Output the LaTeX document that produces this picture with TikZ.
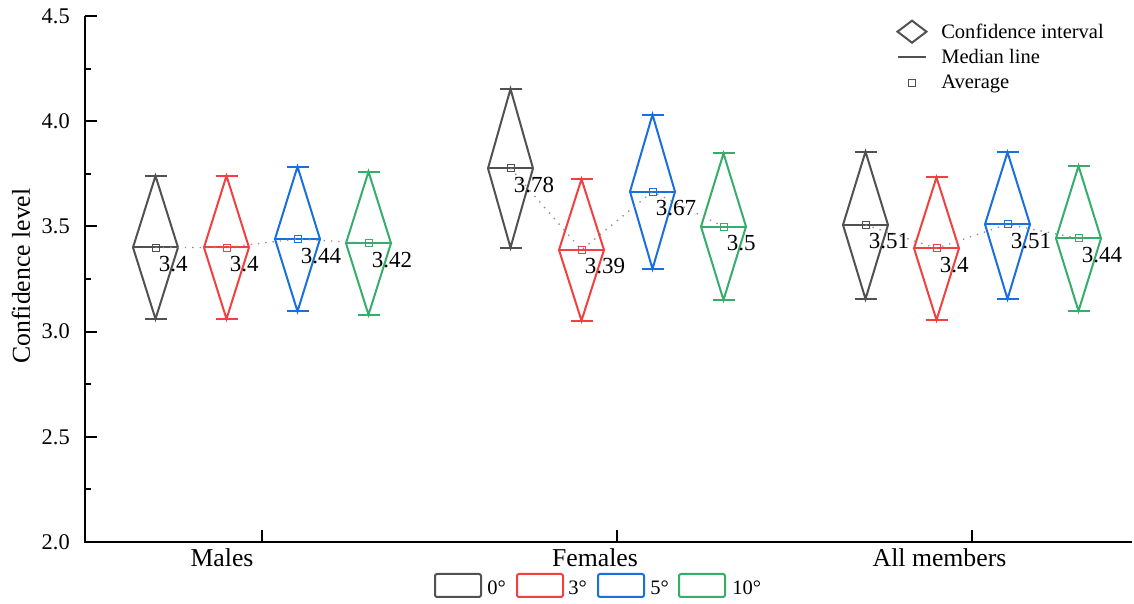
\documentclass[tikz,border=0pt]{standalone}
\usepackage{fontspec}
\setmainfont{Liberation Serif}
\usepackage{xcolor}
\definecolor{ci-gray}{HTML}{515151}
\definecolor{ci-red}{HTML}{F14040}
\definecolor{ci-blue}{HTML}{1A6FDF}
\definecolor{ci-green}{HTML}{37AD6B}
\definecolor{ci-dots}{HTML}{8C8C8C}
\usepackage{tikz}

% one diamond: colour, centre x, lower, median, upper, name, value
\newcommand{\cidiamond}[7]{%
    \draw[diamondline, #1] (#2-22.5, #4) -- (#2, #5) -- (#2+22.5, #4) -- (#2, #3) -- cycle;
    \draw[diamondline, #1] (#2-11, #5) -- (#2+11, #5);
    \draw[diamondline, #1] (#2-11, #3) -- (#2+11, #3);
    \draw[diamondline, #1] (#2-22.5, #4) -- (#2+22.5, #4);
    \node[avgmark, draw=#1] (#6) at (#2, #4) {};
    \node[valuelabel, anchor=base west, yshift=-18pt] (#6-value) at (#2+3, #4) {#7};
}

\begin{document}
\begin{tikzpicture}[x=0.75pt, y=157.8pt,
    axisline/.style={line width=1.5pt, black},
    diamondline/.style={line width=1.5pt},
    avgmark/.style={draw, rectangle, minimum size=5.25pt, inner sep=0pt, line width=0.6pt},
    avgdots/.style={ci-dots, line width=1pt, dash pattern=on 1pt off 4.5pt},
    ticklabel/.style={font=\fontsize{16.8}{18}\selectfont, inner sep=0pt},
    grouplabel/.style={font=\fontsize{19.3}{21}\selectfont, inner sep=0pt},
    valuelabel/.style={font=\fontsize{17.25}{20}\selectfont, inner sep=0pt},
    legendlabel/.style={font=\fontsize{15.4}{17}\selectfont, inner sep=0pt, anchor=base west},
    legendbox/.style={line width=1.5pt, rounded corners=1.5pt}]

    % Canvas
    \useasboundingbox (0, 1.7053) rectangle (1134, 4.5760);

    % Axes
    \draw[axisline] (85, 4.5) -- (85, 2.0) -- (1132, 2.0);
    \foreach \v [count=\i] in {2.0,2.5,3.0,3.5,4.0,4.5} {
        \draw[axisline] (85, \v) -- (97, \v);
        \node[ticklabel, anchor=east] (ytick-\i) at (70, \v) {\v};
    }
    \foreach \v in {2.25,2.75,3.25,3.75,4.25}
        \draw[axisline] (85, \v) -- (91, \v);
    \foreach \gx in {262,617,972}
        \draw[axisline] (\gx, 2.0) -- (\gx, 2.057);
    \node[grouplabel, rotate=90] (ylabel) at (21, 3.264) {Confidence level};
    \node[grouplabel, anchor=base, yshift=-18.75pt] (males) at (222, 2.0) {Males};
    \node[grouplabel, anchor=base, yshift=-18.75pt] (females) at (595, 2.0) {Females};
    \node[grouplabel, anchor=base, yshift=-18.75pt] (allmembers) at (939.5, 2.0) {All members};

    % Males
    \cidiamond{ci-gray}{155.5}{3.06}{3.40}{3.74}{males-0}{3.4}
    \cidiamond{ci-red}{226.5}{3.06}{3.40}{3.74}{males-3}{3.4}
    \cidiamond{ci-blue}{297.5}{3.096}{3.44}{3.784}{males-5}{3.44}
    \cidiamond{ci-green}{368.5}{3.08}{3.42}{3.76}{males-10}{3.42}

    % Females
    \cidiamond{ci-gray}{510.5}{3.399}{3.776}{4.153}{females-0}{3.78}
    \cidiamond{ci-red}{581.5}{3.052}{3.388}{3.725}{females-3}{3.39}
    \cidiamond{ci-blue}{652.5}{3.298}{3.665}{4.031}{females-5}{3.67}
    \cidiamond{ci-green}{723.5}{3.150}{3.499}{3.847}{females-10}{3.5}

    % All members
    \cidiamond{ci-gray}{865.5}{3.155}{3.507}{3.855}{all-0}{3.51}
    \cidiamond{ci-red}{936.5}{3.055}{3.396}{3.733}{all-3}{3.4}
    \cidiamond{ci-blue}{1007.5}{3.155}{3.51}{3.852}{all-5}{3.51}
    \cidiamond{ci-green}{1078.5}{3.098}{3.443}{3.787}{all-10}{3.44}

    % Averages
    \draw[avgdots] (males-0.center) -- (males-3.center) -- (males-5.center) -- (males-10.center);
    \draw[avgdots] (females-0.center) -- (females-3.center) -- (females-5.center) -- (females-10.center);
    \draw[avgdots] (all-0.center) -- (all-3.center) -- (all-5.center) -- (all-10.center);

    % Legend
    \draw[diamondline, ci-gray] (897.5, 4.4254) -- (912, 4.4777) -- (926.5, 4.4254) -- (912, 4.3731) -- cycle;
    \draw[diamondline, ci-gray] (898, 4.3037) -- (926, 4.3037);
    \node[avgmark, draw=ci-gray] (key-average) at (912, 4.1816) {};
    \node[legendlabel] (key-ci-text) at (941, 4.394) {Confidence interval};
    \node[legendlabel] (key-median-text) at (941, 4.2752) {Median line};
    \node[legendlabel] (key-average-text) at (941, 4.1530) {Average};

    \draw[legendbox, ci-gray] (435, 1.7386) rectangle (481, 1.8479);
    \draw[legendbox, ci-red] (517, 1.7386) rectangle (563, 1.8479);
    \draw[legendbox, ci-blue] (598, 1.7386) rectangle (644, 1.8479);
    \draw[legendbox, ci-green] (679, 1.7386) rectangle (725, 1.8479);
    \node[legendlabel] (key-0) at (487, 1.7481) {0°};
    \node[legendlabel] (key-3) at (568, 1.7481) {3°};
    \node[legendlabel] (key-5) at (650, 1.7481) {5°};
    \node[legendlabel] (key-10) at (732, 1.7481) {10°};

\end{tikzpicture}
\end{document}
